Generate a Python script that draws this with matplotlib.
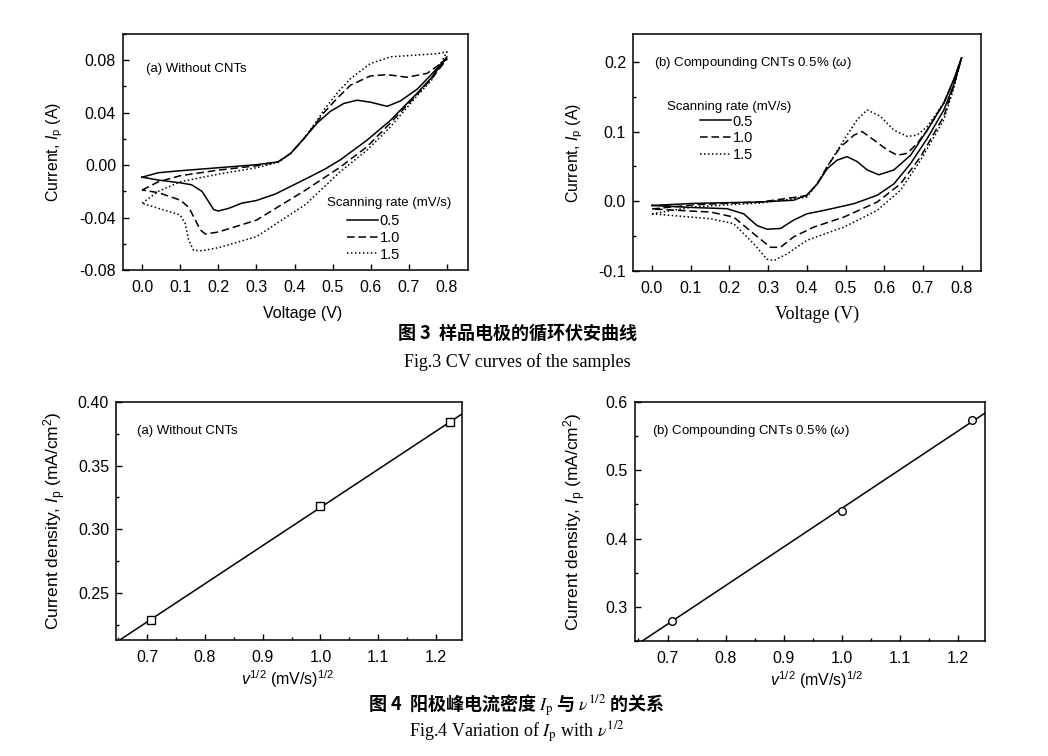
import numpy as np
import matplotlib
matplotlib.use('Agg')
import matplotlib.pyplot as plt
from matplotlib.ticker import MultipleLocator, FormatStrFormatter

plt.rcParams['font.family'] = ['Liberation Sans', 'DejaVu Sans']
plt.rcParams['mathtext.fontset'] = 'custom'
plt.rcParams['mathtext.rm'] = 'Liberation Sans'
plt.rcParams['mathtext.it'] = 'Liberation Sans:italic'
plt.rcParams['mathtext.bf'] = 'Liberation Sans:bold'
plt.rcParams['axes.unicode_minus'] = False

# ---------------- data ----------------
rate_labels = ['0.5', '1.0', '1.5']

# Fig.3 (a) without CNTs : anodic (forward) and cathodic (reverse) branches
a_v_an_05 = [0.0, 0.043, 0.1, 0.2, 0.3, 0.357, 0.39, 0.424, 0.459, 0.494, 0.529, 0.564, 0.599, 0.643, 0.678, 0.722, 0.765, 0.8]
a_i_an_05 = [-0.0092, -0.0058, -0.0043, -0.002, 0.0003, 0.0025, 0.009, 0.020, 0.032, 0.041, 0.047, 0.0495, 0.048, 0.0448, 0.049, 0.058, 0.071, 0.0826]
a_v_ca_05 = [0.8, 0.76, 0.722, 0.651, 0.59, 0.52, 0.48, 0.433, 0.35, 0.3, 0.262, 0.227, 0.2, 0.188, 0.175, 0.157, 0.13, 0.1, 0.043, 0.0]
a_i_ca_05 = [0.0826, 0.067, 0.055, 0.034, 0.019, 0.004, -0.003, -0.010, -0.022, -0.027, -0.029, -0.033, -0.035, -0.034, -0.028, -0.020, -0.015, -0.0135, -0.0114, -0.0092]

a_v_an_10 = [0.0, 0.043, 0.1, 0.2, 0.3, 0.357, 0.39, 0.424, 0.459, 0.477, 0.512, 0.547, 0.599, 0.643, 0.695, 0.748, 0.8]
a_i_an_10 = [-0.019, -0.0127, -0.0081, -0.0038, -0.0005, 0.0025, 0.009, 0.020, 0.033, 0.040, 0.051, 0.061, 0.068, 0.069, 0.067, 0.070, 0.081]
a_v_ca_10 = [0.8, 0.76, 0.722, 0.651, 0.59, 0.52, 0.429, 0.3, 0.2, 0.166, 0.153, 0.14, 0.122, 0.1, 0.043, 0.0]
a_i_ca_10 = [0.081, 0.066, 0.054, 0.032, 0.014, -0.0015, -0.019, -0.042, -0.051, -0.0526, -0.0495, -0.042, -0.032, -0.0267, -0.021, -0.019]

a_v_an_15 = [0.0, 0.043, 0.1, 0.2, 0.3, 0.357, 0.39, 0.424, 0.459, 0.477, 0.512, 0.547, 0.599, 0.652, 0.713, 0.774, 0.8]
a_i_an_15 = [-0.029, -0.020, -0.0127, -0.0069, -0.002, 0.002, 0.009, 0.020, 0.034, 0.042, 0.055, 0.066, 0.0775, 0.0826, 0.0838, 0.085, 0.0864]
a_v_ca_15 = [0.8, 0.76, 0.722, 0.651, 0.59, 0.52, 0.429, 0.3, 0.2, 0.157, 0.135, 0.122, 0.113, 0.1, 0.043, 0.0]
a_i_ca_15 = [0.0864, 0.065, 0.053, 0.029, 0.0114, -0.005, -0.030, -0.0546, -0.063, -0.0653, -0.065, -0.057, -0.0445, -0.038, -0.033, -0.029]

# Fig.3 (b) compounding CNTs 0.5%
b_v_an_05 = [0.0, 0.108, 0.28, 0.366, 0.4, 0.427, 0.453, 0.478, 0.504, 0.53, 0.556, 0.586, 0.625, 0.668, 0.711, 0.754, 0.78, 0.8]
b_i_an_05 = [-0.006, -0.003, -0.001, 0.0015, 0.009, 0.025, 0.047, 0.059, 0.064, 0.057, 0.045, 0.038, 0.045, 0.066, 0.102, 0.141, 0.175, 0.206]
b_v_ca_05 = [0.8, 0.78, 0.754, 0.711, 0.668, 0.625, 0.582, 0.522, 0.453, 0.4, 0.366, 0.332, 0.297, 0.272, 0.237, 0.194, 0.108, 0.0]
b_i_ca_05 = [0.206, 0.168, 0.131, 0.090, 0.054, 0.025, 0.0087, -0.0034, -0.012, -0.018, -0.027, -0.039, -0.040, -0.035, -0.018, -0.0106, -0.009, -0.006]

b_v_an_10 = [0.0, 0.108, 0.28, 0.4, 0.427, 0.453, 0.487, 0.522, 0.543, 0.573, 0.608, 0.634, 0.66, 0.685, 0.711, 0.754, 0.78, 0.8]
b_i_an_10 = [-0.011, -0.005, -0.001, 0.008, 0.025, 0.050, 0.078, 0.095, 0.100, 0.088, 0.0736, 0.066, 0.069, 0.083, 0.102, 0.141, 0.175, 0.206]
b_v_ca_10 = [0.8, 0.78, 0.754, 0.694, 0.642, 0.582, 0.496, 0.418, 0.366, 0.332, 0.306, 0.263, 0.211, 0.151, 0.0]
b_i_ca_10 = [0.206, 0.166, 0.122, 0.064, 0.025, -0.001, -0.0226, -0.037, -0.051, -0.066, -0.066, -0.0466, -0.0226, -0.0154, -0.011]

b_v_an_15 = [0.0, 0.108, 0.28, 0.4, 0.427, 0.453, 0.496, 0.53, 0.556, 0.59, 0.625, 0.66, 0.685, 0.711, 0.754, 0.78, 0.8]
b_i_an_15 = [-0.018, -0.008, -0.0024, 0.006, 0.025, 0.050, 0.088, 0.117, 0.131, 0.122, 0.102, 0.093, 0.095, 0.107, 0.141, 0.175, 0.206]
b_v_ca_15 = [0.8, 0.78, 0.754, 0.694, 0.642, 0.582, 0.496, 0.4, 0.349, 0.315, 0.297, 0.263, 0.211, 0.151, 0.0]
b_i_ca_15 = [0.206, 0.163, 0.117, 0.059, 0.016, -0.013, -0.037, -0.056, -0.0755, -0.085, -0.083, -0.061, -0.032, -0.025, -0.018]

# Fig.4 anodic peak current density vs sqrt(scan rate)
sqrt_rate = [0.7071, 1.0, 1.2247]
ip_a = [0.229, 0.318, 0.384]
ip_b = [0.280, 0.441, 0.573]

# ---------------- styles ----------------
styles = ['-', (0, (5, 2.5)), (0, (1, 1.6))]
LW = 1.1
TICK_FS = 11.5
LAB_FS = 11.5
TAG_FS = 9.5
LEG_FS = 10.5

fig = plt.figure(figsize=(10.48, 7.56), dpi=100)
W, H = 1048, 756


def add_ax(l, r, t, b):
    return fig.add_axes([l / W, 1 - b / H, (r - l) / W, (b - t) / H])


def style_ax(ax):
    ax.tick_params(which='both', direction='in', top=False, right=False,
                   labelsize=TICK_FS, width=1.0)
    ax.tick_params(which='major', length=4.5)
    ax.tick_params(which='minor', length=2.5)
    ax.tick_params(axis='x', pad=7)
    ax.tick_params(axis='y', pad=5)
    for s in ax.spines.values():
        s.set_linewidth(1.1)


def add_legend(ax, handles, title_xy, anchor):
    ax.text(title_xy[0], title_xy[1], 'Scanning rate (mV/s)', transform=ax.transAxes,
            fontsize=TAG_FS, ha='left', va='center')
    ax.legend(handles=handles, loc='upper left', bbox_to_anchor=anchor,
              frameon=False, fontsize=LEG_FS, handlelength=2.15, handletextpad=0.1,
              labelspacing=0.18, borderpad=0, borderaxespad=0)


# ---- Fig.3 (a)
ax1 = add_ax(123, 468, 34, 270)
branches_a = [(a_v_an_05, a_i_an_05, a_v_ca_05, a_i_ca_05),
              (a_v_an_10, a_i_an_10, a_v_ca_10, a_i_ca_10),
              (a_v_an_15, a_i_an_15, a_v_ca_15, a_i_ca_15)]
handles = []
for (va, ia, vc, ic), ls, lab in zip(branches_a, styles, rate_labels):
    h, = ax1.plot(va + vc, ia + ic, color='black', lw=LW, linestyle=ls, label=lab)
    handles.append(h)
ax1.set_xlim(-0.05, 0.855)
ax1.set_ylim(-0.08, 0.10)
ax1.xaxis.set_major_locator(MultipleLocator(0.1))
ax1.xaxis.set_major_formatter(FormatStrFormatter('%.1f'))
ax1.yaxis.set_major_locator(MultipleLocator(0.04))
ax1.yaxis.set_minor_locator(MultipleLocator(0.02))
ax1.yaxis.set_major_formatter(FormatStrFormatter('%.2f'))
style_ax(ax1)
ax1.set_xlabel('Voltage (V)', fontsize=LAB_FS)
ax1.xaxis.set_label_coords(0.52, -0.152)
ax1.set_ylabel('Current, $I_\\mathrm{p}$ (A)', fontsize=LAB_FS, va='center')
ax1.yaxis.set_label_coords(-0.197, 0.5)
ax1.text(0.068, 0.85, '(a) Without CNTs', transform=ax1.transAxes, fontsize=TAG_FS,
         ha='left', va='center')
add_legend(ax1, handles, (0.591, 0.284), (0.649, 0.236))

# ---- Fig.3 (b)
ax2 = add_ax(633, 981, 34, 271)
branches_b = [(b_v_an_05, b_i_an_05, b_v_ca_05, b_i_ca_05),
              (b_v_an_10, b_i_an_10, b_v_ca_10, b_i_ca_10),
              (b_v_an_15, b_i_an_15, b_v_ca_15, b_i_ca_15)]
handles = []
for (va, ia, vc, ic), ls, lab in zip(branches_b, styles, rate_labels):
    h, = ax2.plot(va + vc, ia + ic, color='black', lw=LW, linestyle=ls, label=lab)
    handles.append(h)
ax2.set_xlim(-0.049, 0.85)
ax2.set_ylim(-0.10, 0.24)
ax2.xaxis.set_major_locator(MultipleLocator(0.1))
ax2.xaxis.set_major_formatter(FormatStrFormatter('%.1f'))
ax2.yaxis.set_major_locator(MultipleLocator(0.1))
ax2.yaxis.set_minor_locator(MultipleLocator(0.05))
ax2.yaxis.set_major_formatter(FormatStrFormatter('%.1f'))
style_ax(ax2)
ax2.set_xlabel('Voltage (V)', fontsize=13, family='Liberation Serif')
ax2.xaxis.set_label_coords(0.53, -0.147)
ax2.set_ylabel('Current, $I_\\mathrm{p}$ (A)', fontsize=LAB_FS, va='center')
ax2.yaxis.set_label_coords(-0.167, 0.5)
ax2.text(0.06, 0.877, '(b) Compounding CNTs 0.5% ($\\omega$)', transform=ax2.transAxes,
         fontsize=TAG_FS, ha='left', va='center')
add_legend(ax2, handles, (0.098, 0.693), (0.1925, 0.66))

# ---- Fig.4 (a)
ax3 = add_ax(116, 462, 402, 640)
ax3.set_xlim(0.646, 1.245)
ax3.set_ylim(0.213, 0.40)
k, c = np.polyfit(sqrt_rate, ip_a, 1)
xx = np.array(ax3.get_xlim())
ax3.plot(xx, k * xx + c, color='black', lw=1.1)
ax3.plot(sqrt_rate, ip_a, linestyle='none', marker='s', ms=5.5, mfc='white',
         mec='black', mew=1.0)
ax3.set_xlim(0.646, 1.245)
ax3.xaxis.set_major_locator(MultipleLocator(0.1))
ax3.xaxis.set_minor_locator(MultipleLocator(0.05))
ax3.xaxis.set_major_formatter(FormatStrFormatter('%.1f'))
ax3.yaxis.set_major_locator(MultipleLocator(0.05))
ax3.yaxis.set_minor_locator(MultipleLocator(0.025))
ax3.yaxis.set_major_formatter(FormatStrFormatter('%.2f'))
style_ax(ax3)
ax3.set_xlabel('$\\mathit{v}^{1/2}$ (mV/s)$^{1/2}$', fontsize=LAB_FS)
ax3.xaxis.set_label_coords(0.497, -0.118)
ax3.set_ylabel('Current density, $I_\\mathrm{p}$ (mA/cm$^2$)', fontsize=12.5, va='center')
ax3.yaxis.set_label_coords(-0.176, 0.5)
ax3.text(0.06, 0.88, '(a) Without CNTs', transform=ax3.transAxes, fontsize=TAG_FS,
         ha='left', va='center')

# ---- Fig.4 (b)
ax4 = add_ax(635, 985, 402, 641)
ax4.set_xlim(0.644, 1.247)
ax4.set_ylim(0.25, 0.60)
k, c = np.polyfit(sqrt_rate, ip_b, 1)
xx = np.array(ax4.get_xlim())
ax4.plot(xx, k * xx + c, color='black', lw=1.1)
ax4.plot(sqrt_rate, ip_b, linestyle='none', marker='o', ms=5.5, mfc='white',
         mec='black', mew=1.0)
ax4.set_xlim(0.644, 1.247)
ax4.xaxis.set_major_locator(MultipleLocator(0.1))
ax4.xaxis.set_minor_locator(MultipleLocator(0.05))
ax4.xaxis.set_major_formatter(FormatStrFormatter('%.1f'))
ax4.yaxis.set_major_locator(MultipleLocator(0.1))
ax4.yaxis.set_minor_locator(MultipleLocator(0.05))
ax4.yaxis.set_major_formatter(FormatStrFormatter('%.1f'))
style_ax(ax4)
ax4.set_xlabel('$\\mathit{v}^{1/2}$ (mV/s)$^{1/2}$', fontsize=LAB_FS)
ax4.xaxis.set_label_coords(0.52, -0.118)
ax4.set_ylabel('Current density, $I_\\mathrm{p}$ (mA/cm$^2$)', fontsize=12.5, va='center')
ax4.yaxis.set_label_coords(-0.171, 0.5)
ax4.text(0.05, 0.88, '(b) Compounding CNTs 0.5% ($\\omega$)', transform=ax4.transAxes,
         fontsize=TAG_FS, ha='left', va='center')

# ---- captions
cjk = ['Noto Sans CJK SC', 'DejaVu Sans']
fig.text(518 / W, 1 - 333 / H, '图 3  样品电极的循环伏安曲线', family=cjk,
         fontsize=13, weight='bold', ha='center', va='center')
fig.text(517 / W, 1 - 362 / H, 'Fig.3 CV curves of the samples', family='Liberation Serif',
         fontsize=13, ha='center', va='center')
fig.text(516 / W, 1 - 705 / H, '图 4  阳极峰电流密度 $I_\\mathrm{p}$ 与 $\\nu^{1/2}$ 的关系',
         family=cjk, fontsize=13, weight='bold', ha='center', va='center',
         math_fontfamily='stix')
fig.text(517 / W, 1 - 732 / H, 'Fig.4 Variation of $I_\\mathrm{p}$ with $\\nu^{1/2}$',
         family='Liberation Serif', fontsize=13, ha='center', va='center',
         math_fontfamily='stix')

fig.savefig('out.png', dpi=100)
